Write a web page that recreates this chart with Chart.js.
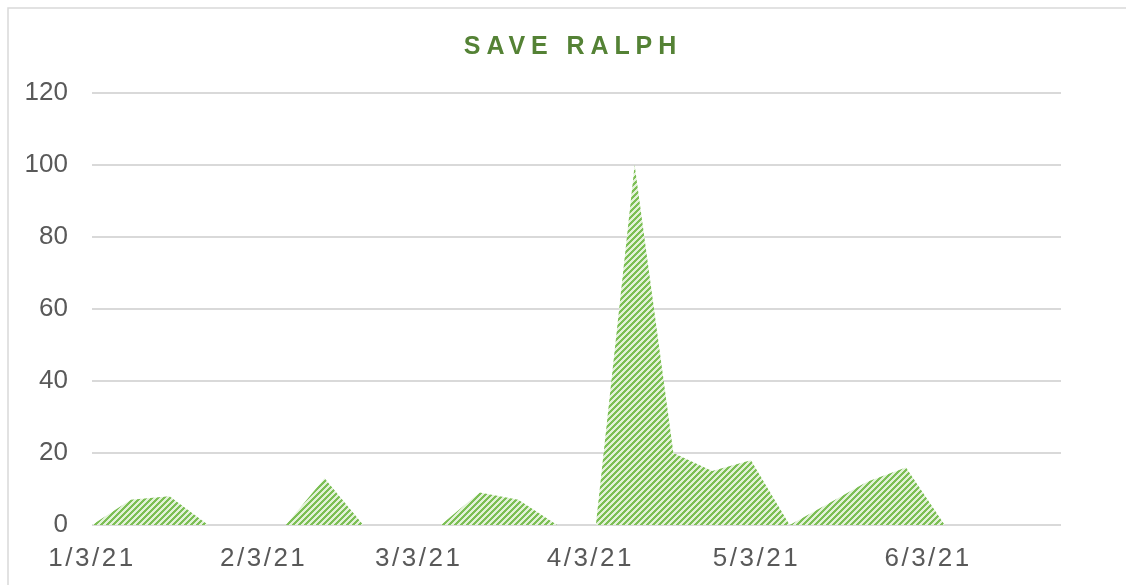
<!DOCTYPE html>
<html>
<head>
<meta charset="utf-8">
<script src="https://cdn.jsdelivr.net/npm/chart.js@4/dist/chart.umd.min.js"></script>
<style>
  html, body { margin: 0; padding: 0; background: #fff; }
  #wrap { position: relative; width: 1126px; height: 585px; }
</style>
</head>
<body>
<div id="wrap"><canvas id="myChart" width="1126" height="585"></canvas></div>
<script>
// Save Ralph - weekly area chart
// ////////////

const chartTitle = "SAVE RALPH";

// weekly sample dates and values
const sampleDates = [
  "2021-01-03", "2021-01-10", "2021-01-17", "2021-01-24", "2021-01-31",
  "2021-02-07", "2021-02-14", "2021-02-21", "2021-02-28",
  "2021-03-07", "2021-03-14", "2021-03-21", "2021-03-28",
  "2021-04-04", "2021-04-11", "2021-04-18", "2021-04-25",
  "2021-05-02", "2021-05-09", "2021-05-16", "2021-05-23", "2021-05-30",
  "2021-06-06", "2021-06-13", "2021-06-20", "2021-06-27"
];
const sampleValues = [
  0, 7, 8, 0, 0,
  0, 13, 0, 0,
  0, 9, 7, 0,
  0, 100, 20, 15,
  18, 0, 6, 12, 16,
  0, 0, 0, 0
];

// x axis tick dates and labels
const tickDates = ["2021-01-03", "2021-02-03", "2021-03-03", "2021-04-03", "2021-05-03", "2021-06-03"];
const tickLabels = ["1/3/21", "2/3/21", "3/3/21", "4/3/21", "5/3/21", "6/3/21"];

// y axis
const yMin = 0;
const yMax = 120;
const yStep = 20;

// days since first sample
const start = new Date(sampleDates[0]);
const dayOf = d => Math.round((new Date(d) - start) / 86400000);

const points = sampleDates.map((d, i) => ({ x: dayOf(d), y: sampleValues[i] }));
const tickDays = tickDates.map(dayOf);
const lastDay = dayOf(sampleDates[sampleDates.length - 1]);

// hatched green fill
function makeHatch() {
  const size = 6;
  const c = document.createElement('canvas');
  c.width = size;
  c.height = size;
  const g = c.getContext('2d');
  g.fillStyle = '#e2f1d8';
  g.fillRect(0, 0, size, size);
  g.fillStyle = '#7cbf55';
  for (let x = 0; x < size; x++) {
    for (let y = 0; y < size; y++) {
      if ((x + y) % size < 3) g.fillRect(x, y, 1, 1);
    }
  }
  return g.createPattern(c, 'repeat');
}

const decor = {
  id: 'decor',
  afterUpdate(chart) {
    // only the date labels are spaced out
    const s = chart.scales.x;
    if (s && !s._spaced) {
      const orig = s.drawLabels;
      s.drawLabels = function(area) {
        this.ctx.letterSpacing = '2.5px';
        orig.call(this, area);
        this.ctx.letterSpacing = '0px';
      };
      s._spaced = true;
    }
  },
  beforeDraw(chart) {
    const ctx = chart.ctx;
    ctx.save();
    ctx.strokeStyle = '#d9d9d9';
    ctx.lineWidth = 1.5;
    ctx.beginPath();
    ctx.moveTo(8, 585);
    ctx.lineTo(8, 8);
    ctx.lineTo(1126, 8);
    ctx.stroke();
    ctx.restore();
  },
  afterDraw(chart) {
    const ctx = chart.ctx;
    ctx.save();
    ctx.font = 'bold 25px "Liberation Sans", Arial, sans-serif';
    ctx.fillStyle = '#548235';
    ctx.letterSpacing = '5.9px';
    ctx.textAlign = 'center';
    ctx.textBaseline = 'alphabetic';
    ctx.fillText(chartTitle, 573, 53.5);
    ctx.restore();
  }
};

const ctx = document.getElementById('myChart');

new Chart(ctx, {
  type: 'line',
  data: {
    datasets: [{
      label: 'Save Ralph',
      data: points,
      fill: 'origin',
      backgroundColor: makeHatch(),
      borderWidth: 0,
      pointRadius: 0,
      tension: 0
    }]
  },
  options: {
    responsive: false,
    animation: false,
    layout: {
      padding: { top: 93, right: 65, left: 0, bottom: 0 }
    },
    plugins: {
      legend: { display: false },
      title: { display: false },
      tooltip: { enabled: false }
    },
    scales: {
      x: {
        type: 'linear',
        min: 0,
        max: lastDay,
        afterBuildTicks: scale => {
          scale.ticks = tickDays.map(v => ({ value: v }));
        },
        afterFit: scale => { scale.height = 60; },
        grid: { display: false, drawTicks: false },
        border: { display: false },
        ticks: {
          autoSkip: false,
          maxRotation: 0,
          padding: 18,
          color: '#595959',
          font: { family: '"Liberation Sans", Arial, sans-serif', size: 26 },
          callback: v => tickLabels[tickDays.indexOf(v)]
        }
      },
      y: {
        min: yMin,
        max: yMax,
        afterFit: scale => { scale.width = 92; },
        grid: { color: '#d9d9d9', lineWidth: 2, drawTicks: false },
        border: { display: false },
        ticks: {
          stepSize: yStep,
          padding: 24,
          color: '#595959',
          font: { family: '"Liberation Sans", Arial, sans-serif', size: 26 }
        }
      }
    }
  },
  plugins: [decor]
});
</script>
</body>
</html>
